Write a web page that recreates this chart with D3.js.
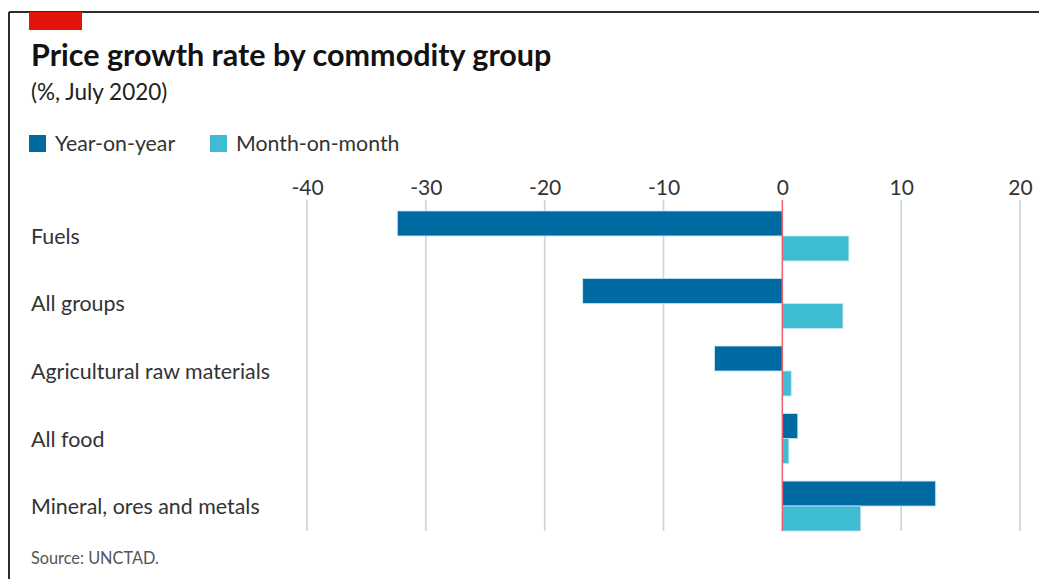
<!DOCTYPE html>
<html>
<head>
<meta charset="utf-8">
<script src="https://cdn.jsdelivr.net/npm/d3@7"></script>
<style>
  html, body { margin: 0; padding: 0; background: #fff; }
  svg { display: block; }
  text { font-family: Lato, "Open Sans", sans-serif; }
</style>
</head>
<body>
<svg id="chart" width="1039" height="579"></svg>
<script>
const categories = ["Fuels", "All groups", "Agricultural raw materials", "All food", "Mineral, ores and metals"];
const seriesNames = ["Year-on-year", "Month-on-month"];
const yearOnYear = [-32.4, -16.8, -5.7, 1.3, 12.9];
const monthOnMonth = [5.6, 5.1, 0.75, 0.55, 6.6];
const tickValues = [-40, -30, -20, -10, 0, 10, 20];
const colors = ["#006ba2", "#3ebcd2"];

const svg = d3.select("#chart");

// frame
svg.append("line").attr("x1", 9).attr("x2", 1039).attr("y1", 12).attr("y2", 12)
  .attr("stroke", "#2b2f2b").attr("stroke-width", 2);
svg.append("line").attr("x1", 9).attr("x2", 9).attr("y1", 12).attr("y2", 579)
  .attr("stroke", "#2b2f2b").attr("stroke-width", 2);
svg.append("rect").attr("x", 29).attr("y", 12).attr("width", 53).attr("height", 18).attr("fill", "#e3120b");

svg.append("text").attr("x", 31).attr("y", 66)
  .attr("font-size", 30.5).attr("font-weight", 700).attr("fill", "#121212")
  .text("Price growth rate by commodity group");
svg.append("text").attr("x", 31).attr("y", 100)
  .attr("font-size", 22.5).attr("fill", "#222")
  .text("(%, July 2020)");

// legend
const legX = [29, 210];
seriesNames.forEach((s, i) => {
  svg.append("rect").attr("x", legX[i]).attr("y", 135).attr("width", 17).attr("height", 17).attr("fill", colors[i]);
  svg.append("text").attr("x", legX[i] + 26).attr("y", 151)
    .attr("font-size", 21.3).attr("fill", "#333").text(s);
});

const x = d3.scaleLinear().domain([-40, 20]).range([307, 1020]);
const y = d3.scaleBand().domain(categories).range([202, 540]).paddingInner(0.26).paddingOuter(0.133);
const ySub = d3.scaleBand().domain(seriesNames).range([0, y.bandwidth()]);

const gridTop = 200, gridBottom = y.range()[1] - 9;

// x axis with grid
const axis = d3.axisTop(x).tickValues(tickValues).tickSize(0).tickPadding(0).tickFormat(d => String(d));
const gAxis = svg.append("g").attr("transform", "translate(0,195)").call(axis);
gAxis.select(".domain").remove();
gAxis.selectAll("text").attr("font-size", 21).attr("fill", "#333")
  .attr("font-family", "Lato, 'Open Sans', sans-serif").attr("dy", 0);

svg.append("g").selectAll("line").data(tickValues.filter(d => d !== 0)).join("line")
  .attr("x1", d => x(d)).attr("x2", d => x(d))
  .attr("y1", gridTop).attr("y2", gridBottom)
  .attr("stroke", "#c9d4dd").attr("stroke-width", 1.6);

// bars
const data = categories.map((c, i) => ({ cat: c, values: [yearOnYear[i], monthOnMonth[i]] }));
const groups = svg.append("g").selectAll("g").data(data).join("g")
  .attr("transform", d => `translate(0,${y(d.cat)})`);
groups.selectAll("rect").data(d => d.values.map((v, j) => ({ v, s: seriesNames[j], j }))).join("rect")
  .attr("x", d => x(Math.min(0, d.v)))
  .attr("width", d => Math.abs(x(d.v) - x(0)))
  .attr("y", d => ySub(d.s))
  .attr("height", ySub.bandwidth())
  .attr("fill", d => colors[d.j])
  .attr("stroke", "#cde6f0").attr("stroke-width", 0.8);

// zero line
svg.append("line").attr("x1", x(0)).attr("x2", x(0)).attr("y1", gridTop).attr("y2", gridBottom)
  .attr("stroke", "#e8636a").attr("stroke-width", 1.5);

// category labels
svg.append("g").selectAll("text").data(categories).join("text")
  .attr("x", 31).attr("y", d => y(d) + y.bandwidth() / 2 + 8)
  .attr("font-size", 21.4).attr("fill", "#333").text(d => d);

svg.append("text").attr("x", 31).attr("y", 564)
  .attr("font-size", 16.3).attr("fill", "#555").text("Source: UNCTAD.");
</script>
</body>
</html>
